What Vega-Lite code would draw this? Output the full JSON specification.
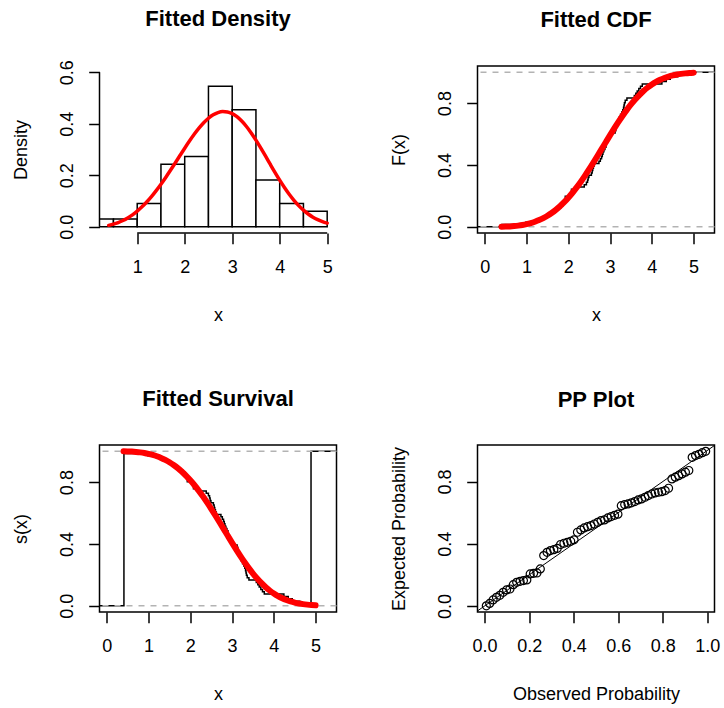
{
  "$schema": "https://vega.github.io/schema/vega-lite/v6.json",
  "background": "white",
  "padding": {"left": 11.5, "top": 7, "right": 0, "bottom": 0},
  "config": {
    "font": "Liberation Sans",
    "view": {"stroke": "black", "strokeWidth": 1.5},
    "axis": {"grid": false, "domain": false, "tickColor": "black", "tickWidth": 1.5, "tickSize": 10.8,
      "labelFont": "Liberation Sans", "labelFontSize": 18, "labelColor": "black", "labelOverlap": false, "labelFlush": false,
      "titleFont": "Liberation Sans", "titleFontSize": 18, "titleFontWeight": "normal", "titleColor": "black"},
    "axisX": {"labelAngle": 0, "labelBaseline": "alphabetic", "labelAlign": "center", "labelPadding": 29,
      "titleX": 118.5, "titleY": 87, "titleBaseline": "alphabetic", "titleAlign": "center", "titleAngle": 0},
    "axisY": {"labelAngle": -90, "labelAlign": "center", "labelBaseline": "alphabetic", "labelPadding": 16,
      "titleAngle": -90, "titleX": -73, "titleY": 83.5, "titleBaseline": "alphabetic", "titleAlign": "center"},
    "title": {"font": "Liberation Sans", "fontSize": 22, "fontWeight": "bold", "color": "black", "anchor": "middle", "frame": "group", "baseline": "alphabetic", "offset": 28.7}
  },
  "datasets": {
    "hist": [
      {"b0": 0, "b1": 0.5, "d": 0.0303}, {"b0": 0.5, "b1": 1, "d": 0.0303}, {"b0": 1, "b1": 1.5, "d": 0.0909},
      {"b0": 1.5, "b1": 2, "d": 0.2424}, {"b0": 2, "b1": 2.5, "d": 0.2727}, {"b0": 2.5, "b1": 3, "d": 0.5455},
      {"b0": 3, "b1": 3.5, "d": 0.4545}, {"b0": 3.5, "b1": 4, "d": 0.1818}, {"b0": 4, "b1": 4.5, "d": 0.0909},
      {"b0": 4.5, "b1": 5, "d": 0.0606}
    ],
    "fit": [
      {"x": 0.4, "dens": 0.0057, "cdf": 0.0006, "surv": 0.9994},
      {"x": 0.5, "dens": 0.0102, "cdf": 0.0014, "surv": 0.9986},
      {"x": 0.6, "dens": 0.0164, "cdf": 0.0027, "surv": 0.9973},
      {"x": 0.7, "dens": 0.0244, "cdf": 0.0048, "surv": 0.9952},
      {"x": 0.8, "dens": 0.0345, "cdf": 0.0077, "surv": 0.9923},
      {"x": 0.9, "dens": 0.0466, "cdf": 0.0117, "surv": 0.9883},
      {"x": 1.0, "dens": 0.0610, "cdf": 0.0171, "surv": 0.9829},
      {"x": 1.1, "dens": 0.0776, "cdf": 0.0240, "surv": 0.9760},
      {"x": 1.2, "dens": 0.0964, "cdf": 0.0327, "surv": 0.9673},
      {"x": 1.3, "dens": 0.1173, "cdf": 0.0433, "surv": 0.9567},
      {"x": 1.4, "dens": 0.1403, "cdf": 0.0562, "surv": 0.9438},
      {"x": 1.5, "dens": 0.1652, "cdf": 0.0715, "surv": 0.9285},
      {"x": 1.6, "dens": 0.1916, "cdf": 0.0893, "surv": 0.9107},
      {"x": 1.7, "dens": 0.2193, "cdf": 0.1098, "surv": 0.8902},
      {"x": 1.8, "dens": 0.2478, "cdf": 0.1332, "surv": 0.8668},
      {"x": 1.9, "dens": 0.2766, "cdf": 0.1594, "surv": 0.8406},
      {"x": 2.0, "dens": 0.3051, "cdf": 0.1885, "surv": 0.8115},
      {"x": 2.1, "dens": 0.3328, "cdf": 0.2204, "surv": 0.7796},
      {"x": 2.2, "dens": 0.3589, "cdf": 0.2550, "surv": 0.7450},
      {"x": 2.3, "dens": 0.3828, "cdf": 0.2921, "surv": 0.7079},
      {"x": 2.4, "dens": 0.4038, "cdf": 0.3314, "surv": 0.6686},
      {"x": 2.5, "dens": 0.4213, "cdf": 0.3727, "surv": 0.6273},
      {"x": 2.6, "dens": 0.4346, "cdf": 0.4156, "surv": 0.5844},
      {"x": 2.7, "dens": 0.4434, "cdf": 0.4595, "surv": 0.5405},
      {"x": 2.8, "dens": 0.4472, "cdf": 0.5041, "surv": 0.4959},
      {"x": 2.9, "dens": 0.4457, "cdf": 0.5488, "surv": 0.4512},
      {"x": 3.0, "dens": 0.4390, "cdf": 0.5931, "surv": 0.4069},
      {"x": 3.1, "dens": 0.4272, "cdf": 0.6364, "surv": 0.3636},
      {"x": 3.2, "dens": 0.4105, "cdf": 0.6783, "surv": 0.3217},
      {"x": 3.3, "dens": 0.3893, "cdf": 0.7183, "surv": 0.2817},
      {"x": 3.4, "dens": 0.3644, "cdf": 0.7561, "surv": 0.2439},
      {"x": 3.5, "dens": 0.3365, "cdf": 0.7911, "surv": 0.2089},
      {"x": 3.6, "dens": 0.3062, "cdf": 0.8233, "surv": 0.1767},
      {"x": 3.7, "dens": 0.2749, "cdf": 0.8523, "surv": 0.1477},
      {"x": 3.8, "dens": 0.2429, "cdf": 0.8782, "surv": 0.1218},
      {"x": 3.9, "dens": 0.2114, "cdf": 0.9010, "surv": 0.0990},
      {"x": 4.0, "dens": 0.1811, "cdf": 0.9205, "surv": 0.0795},
      {"x": 4.1, "dens": 0.1526, "cdf": 0.9372, "surv": 0.0628},
      {"x": 4.2, "dens": 0.1264, "cdf": 0.9512, "surv": 0.0488},
      {"x": 4.3, "dens": 0.1029, "cdf": 0.9626, "surv": 0.0374},
      {"x": 4.4, "dens": 0.0822, "cdf": 0.9718, "surv": 0.0282},
      {"x": 4.5, "dens": 0.0646, "cdf": 0.9791, "surv": 0.0209},
      {"x": 4.6, "dens": 0.0497, "cdf": 0.9848, "surv": 0.0152},
      {"x": 4.7, "dens": 0.0375, "cdf": 0.9892, "surv": 0.0108},
      {"x": 4.8, "dens": 0.0278, "cdf": 0.9924, "surv": 0.0076},
      {"x": 4.9, "dens": 0.0201, "cdf": 0.9948, "surv": 0.0052},
      {"x": 5.0, "dens": 0.0143, "cdf": 0.9965, "surv": 0.0035}
    ],
    "ecdf": [
      {"x": -0.5, "F": 0, "S": 0},
      {"x": 0.41, "F": 0.0152, "S": 0.9848}, {"x": 0.982, "F": 0.0303, "S": 0.9697}, {"x": 1.256, "F": 0.0455, "S": 0.9545},
      {"x": 1.396, "F": 0.0606, "S": 0.9394}, {"x": 1.479, "F": 0.0758, "S": 0.9242}, {"x": 1.592, "F": 0.0909, "S": 0.9091},
      {"x": 1.667, "F": 0.1061, "S": 0.8939}, {"x": 1.696, "F": 0.1212, "S": 0.8788}, {"x": 1.815, "F": 0.1364, "S": 0.8636},
      {"x": 1.873, "F": 0.1515, "S": 0.8485}, {"x": 1.895, "F": 0.1667, "S": 0.8333}, {"x": 1.913, "F": 0.1818, "S": 0.8182},
      {"x": 1.927, "F": 0.1970, "S": 0.8030}, {"x": 2.056, "F": 0.2121, "S": 0.7879}, {"x": 2.068, "F": 0.2273, "S": 0.7727},
      {"x": 2.075, "F": 0.2424, "S": 0.7576}, {"x": 2.152, "F": 0.2576, "S": 0.7424}, {"x": 2.381, "F": 0.2727, "S": 0.7273},
      {"x": 2.433, "F": 0.2879, "S": 0.7121}, {"x": 2.460, "F": 0.3030, "S": 0.6970}, {"x": 2.474, "F": 0.3182, "S": 0.6818},
      {"x": 2.493, "F": 0.3333, "S": 0.6667}, {"x": 2.552, "F": 0.3485, "S": 0.6515}, {"x": 2.571, "F": 0.3636, "S": 0.6364},
      {"x": 2.585, "F": 0.3788, "S": 0.6212}, {"x": 2.601, "F": 0.3939, "S": 0.6061}, {"x": 2.622, "F": 0.4091, "S": 0.5909},
      {"x": 2.733, "F": 0.4242, "S": 0.5758}, {"x": 2.766, "F": 0.4394, "S": 0.5606}, {"x": 2.795, "F": 0.4545, "S": 0.5455},
      {"x": 2.813, "F": 0.4697, "S": 0.5303}, {"x": 2.829, "F": 0.4848, "S": 0.5152}, {"x": 2.851, "F": 0.5, "S": 0.5},
      {"x": 2.876, "F": 0.5152, "S": 0.4848}, {"x": 2.901, "F": 0.5303, "S": 0.4697}, {"x": 2.910, "F": 0.5455, "S": 0.4545},
      {"x": 2.939, "F": 0.5606, "S": 0.4394}, {"x": 2.959, "F": 0.5758, "S": 0.4242}, {"x": 2.977, "F": 0.5909, "S": 0.4091},
      {"x": 2.993, "F": 0.6061, "S": 0.3939}, {"x": 3.120, "F": 0.6212, "S": 0.3788}, {"x": 3.137, "F": 0.6364, "S": 0.3636},
      {"x": 3.146, "F": 0.6515, "S": 0.3485}, {"x": 3.163, "F": 0.6667, "S": 0.3333}, {"x": 3.182, "F": 0.6818, "S": 0.3182},
      {"x": 3.209, "F": 0.6970, "S": 0.3030}, {"x": 3.224, "F": 0.7121, "S": 0.2879}, {"x": 3.251, "F": 0.7273, "S": 0.2727},
      {"x": 3.279, "F": 0.7424, "S": 0.2576}, {"x": 3.304, "F": 0.7576, "S": 0.2424}, {"x": 3.322, "F": 0.7727, "S": 0.2273},
      {"x": 3.333, "F": 0.7879, "S": 0.2121}, {"x": 3.343, "F": 0.8030, "S": 0.1970}, {"x": 3.362, "F": 0.8182, "S": 0.1818},
      {"x": 3.403, "F": 0.8333, "S": 0.1667}, {"x": 3.580, "F": 0.8485, "S": 0.1515}, {"x": 3.616, "F": 0.8636, "S": 0.1364},
      {"x": 3.649, "F": 0.8788, "S": 0.1212}, {"x": 3.688, "F": 0.8939, "S": 0.1061}, {"x": 3.728, "F": 0.9091, "S": 0.0909},
      {"x": 3.771, "F": 0.9242, "S": 0.0758}, {"x": 4.240, "F": 0.9394, "S": 0.0606}, {"x": 4.345, "F": 0.9545, "S": 0.0455},
      {"x": 4.441, "F": 0.9697, "S": 0.0303}, {"x": 4.620, "F": 0.9848, "S": 0.0152}, {"x": 4.890, "F": 1, "S": 1},
      {"x": 6, "F": 1, "S": 1}
    ],
    "pp": [
      {"obs": 0.0076, "exp": 0.0007}, {"obs": 0.0227, "exp": 0.016}, {"obs": 0.0379, "exp": 0.0384}, {"obs": 0.0530, "exp": 0.0556},
      {"obs": 0.0682, "exp": 0.068}, {"obs": 0.0833, "exp": 0.0877}, {"obs": 0.0985, "exp": 0.1027}, {"obs": 0.1136, "exp": 0.109},
      {"obs": 0.1288, "exp": 0.137}, {"obs": 0.1439, "exp": 0.152}, {"obs": 0.1591, "exp": 0.158}, {"obs": 0.1742, "exp": 0.163},
      {"obs": 0.1894, "exp": 0.167}, {"obs": 0.2045, "exp": 0.206}, {"obs": 0.2197, "exp": 0.210}, {"obs": 0.2348, "exp": 0.212},
      {"obs": 0.2500, "exp": 0.238}, {"obs": 0.2652, "exp": 0.324}, {"obs": 0.2803, "exp": 0.345}, {"obs": 0.2955, "exp": 0.356},
      {"obs": 0.3106, "exp": 0.362}, {"obs": 0.3258, "exp": 0.370}, {"obs": 0.3409, "exp": 0.395}, {"obs": 0.3561, "exp": 0.403},
      {"obs": 0.3712, "exp": 0.409}, {"obs": 0.3864, "exp": 0.416}, {"obs": 0.4015, "exp": 0.425}, {"obs": 0.4167, "exp": 0.474},
      {"obs": 0.4318, "exp": 0.489}, {"obs": 0.4470, "exp": 0.502}, {"obs": 0.4621, "exp": 0.510}, {"obs": 0.4773, "exp": 0.517},
      {"obs": 0.4924, "exp": 0.527}, {"obs": 0.5076, "exp": 0.538}, {"obs": 0.5227, "exp": 0.549}, {"obs": 0.5379, "exp": 0.553},
      {"obs": 0.5530, "exp": 0.566}, {"obs": 0.5682, "exp": 0.575}, {"obs": 0.5833, "exp": 0.583}, {"obs": 0.5985, "exp": 0.590},
      {"obs": 0.6136, "exp": 0.645}, {"obs": 0.6288, "exp": 0.652}, {"obs": 0.6439, "exp": 0.656}, {"obs": 0.6591, "exp": 0.663},
      {"obs": 0.6742, "exp": 0.671}, {"obs": 0.6894, "exp": 0.682}, {"obs": 0.7045, "exp": 0.688}, {"obs": 0.7197, "exp": 0.699},
      {"obs": 0.7348, "exp": 0.710}, {"obs": 0.7500, "exp": 0.720}, {"obs": 0.7652, "exp": 0.727}, {"obs": 0.7803, "exp": 0.731},
      {"obs": 0.7955, "exp": 0.735}, {"obs": 0.8106, "exp": 0.742}, {"obs": 0.8258, "exp": 0.757}, {"obs": 0.8409, "exp": 0.817},
      {"obs": 0.8561, "exp": 0.828}, {"obs": 0.8712, "exp": 0.838}, {"obs": 0.8864, "exp": 0.849}, {"obs": 0.9015, "exp": 0.860},
      {"obs": 0.9167, "exp": 0.871}, {"obs": 0.9318, "exp": 0.956}, {"obs": 0.9470, "exp": 0.967}, {"obs": 0.9621, "exp": 0.975},
      {"obs": 0.9773, "exp": 0.9858}, {"obs": 0.9924, "exp": 0.9946}
    ],
    "h01": [{"h": 0}, {"h": 1}],
    "diag": [{"p": -0.1}, {"p": 1.1}]
  },
  "columns": 2,
  "bounds": "flush",
  "spacing": {"row": 212, "column": 141},
  "concat": [
    {
      "width": 237, "height": 167,
      "view": {"stroke": null},
      "title": {"text": "Fitted Density"},
      "layer": [
        {
          "data": {"name": "hist"},
          "mark": {"type": "rect", "fill": "white", "stroke": "black", "strokeWidth": 1.5, "clip": true},
          "encoding": {
            "x": {"field": "b0", "type": "quantitative", "scale": {"domain": [0.206, 5.196], "nice": false, "zero": false},
              "axis": {"title": "x", "values": [1, 2, 3, 4, 5], "format": "d"}},
            "x2": {"field": "b1"},
            "y": {"field": "d", "type": "quantitative", "scale": {"domain": [-0.024, 0.624], "nice": false, "zero": false},
              "axis": {"title": "Density", "values": [0, 0.1, 0.2, 0.3, 0.4, 0.5, 0.6],
                "labelExpr": "round(datum.value*10) % 2 == 0 ? format(datum.value, '.1f') : ''"}},
            "y2": {"datum": 0}
          }
        },
        {
          "data": {"values": [{"a": 1, "b": 5, "c": -0.024}]},
          "mark": {"type": "rule", "color": "black", "strokeWidth": 1.5},
          "encoding": {
            "x": {"field": "a", "type": "quantitative", "title": "x"},
            "x2": {"field": "b"},
            "y": {"field": "c", "type": "quantitative", "title": "Density"}
          }
        },
        {
          "data": {"values": [{"a": 0.206, "b": 0, "c": 0.6}]},
          "mark": {"type": "rule", "color": "black", "strokeWidth": 1.5},
          "encoding": {
            "x": {"field": "a", "type": "quantitative", "title": "x"},
            "y": {"field": "b", "type": "quantitative", "title": "Density"},
            "y2": {"field": "c"}
          }
        },
        {
          "data": {"name": "fit"},
          "mark": {"type": "line", "color": "#ff0000", "strokeWidth": 3.5, "strokeCap": "round", "interpolate": "monotone"},
          "encoding": {
            "x": {"field": "x", "type": "quantitative", "title": "x"},
            "y": {"field": "dens", "type": "quantitative", "title": "Density"}
          }
        }
      ]
    },
    {
      "width": 237, "height": 167,
      "title": {"text": "Fitted CDF"},
      "layer": [
        {
          "data": {"name": "ecdf"},
          "mark": {"type": "line", "color": "black", "strokeWidth": 1.5, "interpolate": "step-after", "clip": true},
          "encoding": {
            "x": {"field": "x", "type": "quantitative", "scale": {"domain": [-0.175, 5.5], "nice": false, "zero": false},
              "axis": {"title": "x", "values": [0, 1, 2, 3, 4, 5], "format": "d"}},
            "y": {"field": "F", "type": "quantitative", "scale": {"domain": [-0.04, 1.04], "nice": false, "zero": false},
              "axis": {"title": "F(x)", "values": [0, 0.2, 0.4, 0.6, 0.8, 1],
                "labelExpr": "round(datum.value*10) % 4 == 0 ? format(datum.value, '.1f') : ''"}}
          }
        },
        {
          "data": {"name": "h01"},
          "mark": {"type": "rule", "color": "#b3b3b3", "strokeWidth": 1.5, "strokeDash": [6, 6]},
          "encoding": {"y": {"field": "h", "type": "quantitative", "title": "F(x)"}}
        },
        {
          "data": {"name": "fit"},
          "mark": {"type": "line", "color": "#ff0000", "strokeWidth": 6, "strokeCap": "round", "interpolate": "monotone"},
          "encoding": {
            "x": {"field": "x", "type": "quantitative", "title": "x"},
            "y": {"field": "cdf", "type": "quantitative", "title": "F(x)"}
          }
        }
      ]
    },
    {
      "width": 237, "height": 167,
      "title": {"text": "Fitted Survival"},
      "layer": [
        {
          "data": {"name": "ecdf"},
          "mark": {"type": "line", "color": "black", "strokeWidth": 1.5, "interpolate": "step-after", "clip": true},
          "encoding": {
            "x": {"field": "x", "type": "quantitative", "scale": {"domain": [-0.175, 5.5], "nice": false, "zero": false},
              "axis": {"title": "x", "values": [0, 1, 2, 3, 4, 5], "format": "d"}},
            "y": {"field": "S", "type": "quantitative", "scale": {"domain": [-0.04, 1.04], "nice": false, "zero": false},
              "axis": {"title": "s(x)", "values": [0, 0.2, 0.4, 0.6, 0.8, 1],
                "labelExpr": "round(datum.value*10) % 4 == 0 ? format(datum.value, '.1f') : ''"}}
          }
        },
        {
          "data": {"name": "h01"},
          "mark": {"type": "rule", "color": "#b3b3b3", "strokeWidth": 1.5, "strokeDash": [6, 6]},
          "encoding": {"y": {"field": "h", "type": "quantitative", "title": "s(x)"}}
        },
        {
          "data": {"name": "fit"},
          "mark": {"type": "line", "color": "#ff0000", "strokeWidth": 6, "strokeCap": "round", "interpolate": "monotone"},
          "encoding": {
            "x": {"field": "x", "type": "quantitative", "title": "x"},
            "y": {"field": "surv", "type": "quantitative", "title": "s(x)"}
          }
        }
      ]
    },
    {
      "width": 237, "height": 167,
      "title": {"text": "PP Plot", "offset": 33.2},
      "layer": [
        {
          "data": {"name": "pp"},
          "mark": {"type": "point", "shape": "circle", "filled": false, "color": "black", "size": 64, "strokeWidth": 1.2, "opacity": 1},
          "encoding": {
            "x": {"field": "obs", "type": "quantitative", "scale": {"domain": [-0.032, 1.032], "nice": false, "zero": false},
              "axis": {"title": "Observed Probability", "values": [0, 0.2, 0.4, 0.6, 0.8, 1], "format": ".1f"}},
            "y": {"field": "exp", "type": "quantitative", "scale": {"domain": [-0.039, 1.035], "nice": false, "zero": false},
              "axis": {"title": "Expected Probability", "values": [0, 0.2, 0.4, 0.6, 0.8, 1],
                "labelExpr": "round(datum.value*10) % 4 == 0 ? format(datum.value, '.1f') : ''"}}
          }
        },
        {
          "data": {"name": "diag"},
          "mark": {"type": "line", "color": "black", "strokeWidth": 1, "clip": true},
          "encoding": {
            "x": {"field": "p", "type": "quantitative", "title": "Observed Probability"},
            "y": {"field": "p", "type": "quantitative", "title": "Expected Probability"}
          }
        }
      ]
    }
  ]
}
